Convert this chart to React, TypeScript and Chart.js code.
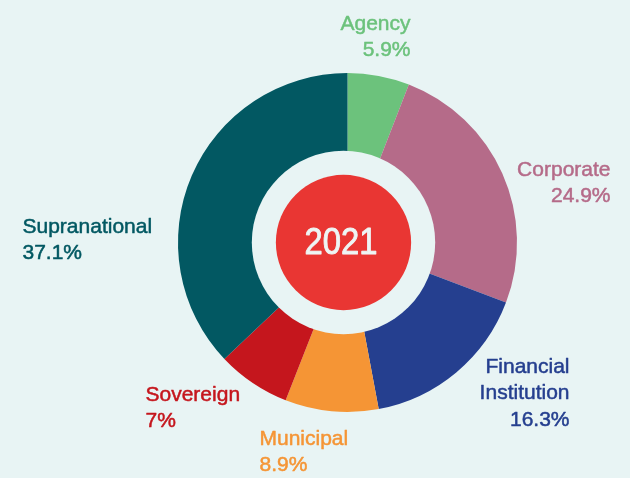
import React, { useEffect, useRef } from "react";
import { Chart, registerables } from "chart.js";

Chart.register(...registerables);

const categories = ["Agency", "Corporate", "Financial Institution", "Municipal", "Sovereign", "Supranational"];
const shares = [5.9, 24.9, 16.3, 8.9, 7, 37.1];
const sliceColors = ["#6cc27c", "#b56b89", "#253f8f", "#f59535", "#c5161d", "#025862"];
const centerLabel = "2021";

const BG = "#e8f4f4";

// label placement relative to the doughnut centre (pixels): [align, dx, first-baseline dy]
const labelPlacement: [CanvasTextAlign, number, number][] = [
  ["right", 63, -213],
  ["right", 263, -67],
  ["right", 222, 130],
  ["left", -88, 202],
  ["left", -202, 158],
  ["left", -325, -10],
];

const bgPlugin = {
  id: "bgFill",
  beforeDraw(chart: any) {
    const { ctx, width, height } = chart;
    ctx.save();
    ctx.fillStyle = BG;
    ctx.fillRect(0, 0, width, height);
    ctx.restore();
  },
};

const centerPlugin = {
  id: "centerDisc",
  afterDatasetsDraw(chart: any) {
    const arc = chart.getDatasetMeta(0).data[0];
    if (!arc) return;
    const { x, y, outerRadius } = arc.getProps(["x", "y", "outerRadius"], true);
    const cx = x - 4;
    const cy = y;
    const ctx = chart.ctx;
    ctx.save();
    ctx.fillStyle = BG;
    ctx.beginPath();
    ctx.arc(cx, cy, outerRadius * 0.541, 0, Math.PI * 2);
    ctx.fill();
    ctx.fillStyle = "#e93633";
    ctx.beginPath();
    ctx.arc(cx, cy, outerRadius * 0.399, 0, Math.PI * 2);
    ctx.fill();
    ctx.fillStyle = "#eef5f4";
    ctx.strokeStyle = "#eef5f4";
    ctx.lineWidth = 0.9;
    ctx.lineJoin = "round";
    ctx.font = '36px "Liberation Sans", Arial, sans-serif';
    ctx.textAlign = "center";
    ctx.textBaseline = "alphabetic";
    ctx.translate(cx - 2.5, cy + 11);
    ctx.scale(0.91, 1);
    ctx.fillText(centerLabel, 0, 0);
    ctx.strokeText(centerLabel, 0, 0);
    ctx.restore();
  },
};

const labelPlugin = {
  id: "outerLabels",
  afterDraw(chart: any) {
    const arc = chart.getDatasetMeta(0).data[0];
    if (!arc) return;
    const { x, y } = arc.getProps(["x", "y"], true);
    const ctx = chart.ctx;
    ctx.save();
    ctx.font = '21px "Liberation Sans", Arial, sans-serif';
    ctx.textBaseline = "alphabetic";
    ctx.lineWidth = 0.5;
    ctx.lineJoin = "round";
    categories.forEach((cat, i) => {
      const [align, dx, dy] = labelPlacement[i];
      const lines = cat === "Financial Institution" ? cat.split(" ") : [cat];
      lines.push(`${shares[i]}%`);
      ctx.fillStyle = sliceColors[i];
      ctx.strokeStyle = sliceColors[i];
      ctx.textAlign = align;
      lines.forEach((ln, j) => {
        ctx.fillText(ln, x + dx, y + dy + j * 26.5);
        ctx.strokeText(ln, x + dx, y + dy + j * 26.5);
      });
    });
    ctx.restore();
  },
};

export default function App() {
  const canvasRef = useRef<HTMLCanvasElement | null>(null);

  useEffect(() => {
    if (!canvasRef.current) return;
    const chart = new Chart(canvasRef.current, {
      type: "doughnut",
      data: {
        labels: categories,
        datasets: [
          {
            data: shares,
            backgroundColor: sliceColors,
            borderWidth: 0,
          },
        ],
      },
      options: {
        animation: false,
        responsive: true,
        maintainAspectRatio: false,
        cutout: "50%",
        layout: { padding: { top: 73, bottom: 66, left: 178, right: 113 } },
        plugins: {
          legend: { display: false },
          tooltip: { enabled: false },
        },
      },
      plugins: [bgPlugin, centerPlugin, labelPlugin],
    });
    return () => chart.destroy();
  }, []);

  return (
    <div style={{ position: "fixed", left: 0, top: 0, width: 630, height: 478, background: BG }}>
      <canvas ref={canvasRef} />
    </div>
  );
}
